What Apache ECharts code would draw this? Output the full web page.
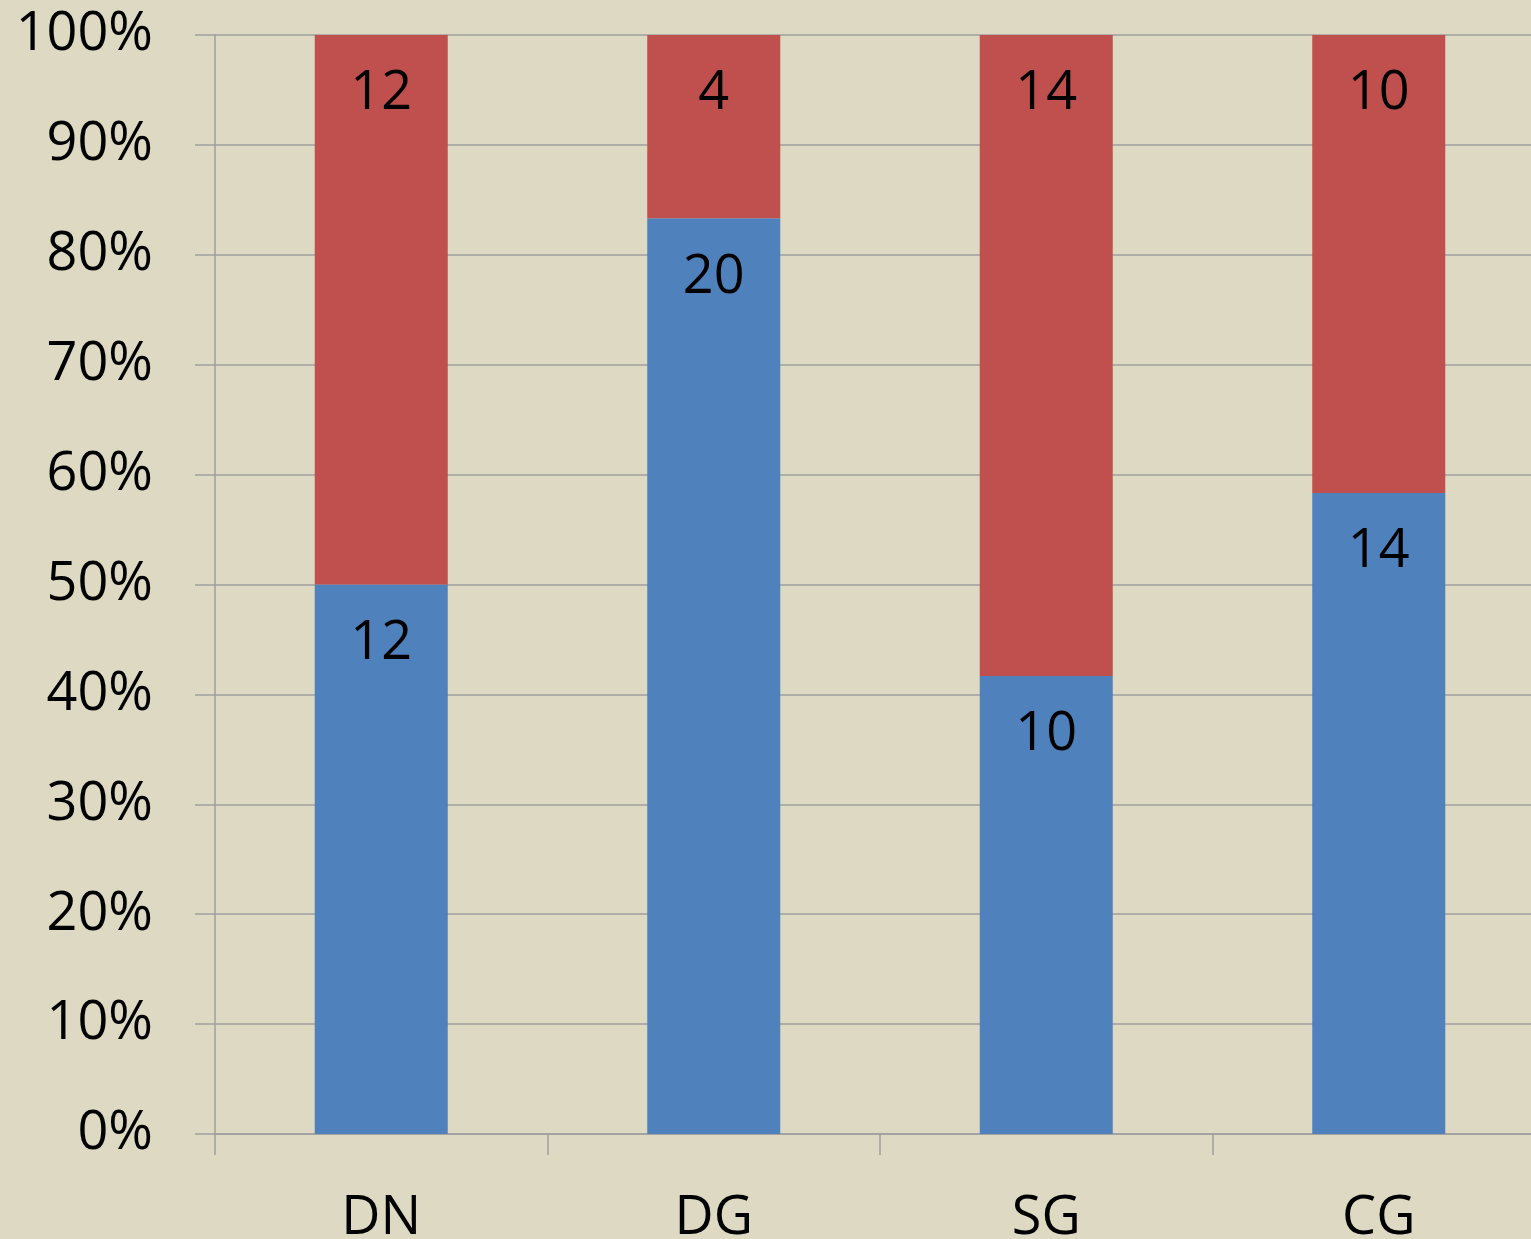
<!DOCTYPE html>
<html>
<head>
<meta charset="utf-8">
<script src="https://cdn.jsdelivr.net/npm/echarts@6/dist/echarts.min.js"></script>
<style>
  html, body { margin: 0; padding: 0; background: #DDD9C3; }
  #chart { width: 1531px; height: 1239px; }
</style>
</head>
<body>
<div id="chart"></div>
<script>
// categories and raw counts per group
const categories = ['DN', 'DG', 'SG', 'CG'];
const blueValues = [12, 20, 10, 14];
const redValues = [12, 4, 14, 10];
const yTicks = [0, 10, 20, 30, 40, 50, 60, 70, 80, 90, 100];

// 100% stacked: share of each group total
const totals = categories.map((c, i) => blueValues[i] + redValues[i]);
const bluePct = blueValues.map((v, i) => ({ value: v / totals[i] * 100, raw: v }));
const redPct = redValues.map((v, i) => ({ value: v / totals[i] * 100, raw: v }));

const FONT = '"Open Sans", sans-serif';
const GRID_COLOR = '#9E9E9E';

const chart = echarts.init(document.getElementById('chart'));

const labelStyle = {
  show: true,
  position: 'insideTop',
  distance: 32,
  color: '#000',
  fontFamily: FONT,
  fontSize: 54,
  formatter: p => p.data.raw
};

chart.setOption({
  backgroundColor: '#DDD9C3',
  animation: false,
  // plot runs past the right edge of the picture
  grid: { left: 215, top: 35, bottom: 105, width: 1330, outerBoundsMode: 'none', containLabel: false },
  xAxis: {
    type: 'category',
    data: categories,
    boundaryGap: true,
    axisLine: { lineStyle: { color: GRID_COLOR, width: 1.5 } },
    axisTick: { show: true, interval: 0, length: 21, lineStyle: { color: GRID_COLOR, width: 1.5 } },
    axisLabel: { color: '#000', fontFamily: FONT, fontSize: 54, margin: 58 }
  },
  yAxis: {
    type: 'value',
    min: yTicks[0],
    max: yTicks[yTicks.length - 1],
    interval: 10,
    axisLine: { show: true, lineStyle: { color: GRID_COLOR, width: 1.5 } },
    axisTick: { show: true, length: 20, lineStyle: { color: GRID_COLOR, width: 1.5 } },
    axisLabel: { color: '#000', fontFamily: FONT, fontSize: 54, margin: 62, formatter: '{value}%' },
    splitLine: { show: true, lineStyle: { color: GRID_COLOR, width: 1.5 } }
  },
  series: [
    {
      name: 'blue',
      type: 'bar',
      stack: 'total',
      barWidth: '40%',
      itemStyle: { color: '#4F81BD' },
      label: labelStyle,
      data: bluePct
    },
    {
      name: 'red',
      type: 'bar',
      stack: 'total',
      barWidth: '40%',
      itemStyle: { color: '#C0504D' },
      label: labelStyle,
      data: redPct
    }
  ]
});
</script>
</body>
</html>
